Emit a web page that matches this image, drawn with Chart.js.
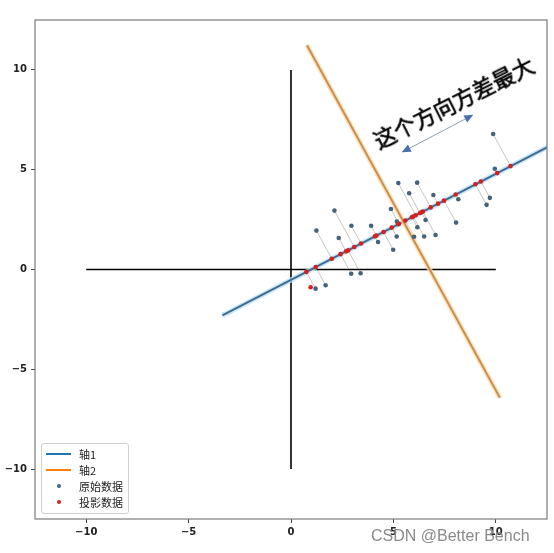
<!DOCTYPE html>
<html>
<head>
<meta charset="utf-8">
<script src="https://cdn.jsdelivr.net/npm/chart.js@4/dist/chart.umd.min.js"></script>
<style>
  body { margin: 0; background: #fff; }
  #wrap { position: relative; width: 554px; height: 553px; }
  #legend {
    position: absolute; left: 41px; top: 443px; width: 86px; height: 69px;
    border: 1px solid #d0d0d0; border-radius: 3px; background: rgba(255,255,255,0.85);
    font: 11px "Noto Sans CJK SC", sans-serif; color: #222;
  }
  .row { position: absolute; left: 0; height: 16px; width: 86px; }
  .row span { position: absolute; left: 37px; top: 0; line-height: 16px; }
  .line { position: absolute; left: 4px; top: 7px; width: 25px; height: 2px; }
  .dot { position: absolute; left: 15px; top: 6px; width: 4px; height: 4px; border-radius: 50%; }
  #note {
    position: absolute; left: 453px; top: 101px; white-space: nowrap;
    transform: translate(-50%, -50%) rotate(-26.6deg);
    font: 22px "Noto Sans CJK SC", sans-serif; color: #000;
    -webkit-text-stroke: 0.6px #000;
  }
  #mark {
    position: absolute; left: 371px; top: 527px;
    font: 16px "Liberation Sans", Arial, sans-serif; color: #8a8a8a;
  }
</style>
</head>
<body>
<div id="wrap">
  <canvas id="pca" width="554" height="553"></canvas>
  <div id="legend">
    <div class="row" style="top:2px"><div class="line" style="background:#1f77b4"></div><span>轴1</span></div>
    <div class="row" style="top:18px"><div class="line" style="background:#ff7f0e"></div><span>轴2</span></div>
    <div class="row" style="top:34px"><div class="dot" style="background:#3f6687"></div><span>原始数据</span></div>
    <div class="row" style="top:50px"><div class="dot" style="background:#d42020"></div><span>投影数据</span></div>
  </div>
  <div id="note">这个方向方差最大</div>
  <div id="mark">CSDN @Better Bench</div>
</div>
<script>
// ticks
const xTicks = [-10, -5, 0, 5, 10];
const yTicks = [-10, -5, 0, 5, 10];

// original points
const origX = [9.87, 9.95, 5.24, 6.16, 5.77, 6.95, 8.17, 9.71, 9.55, 2.12, 4.88, 8.06, 5.17, 1.24, 2.95,
  3.91, 2.33, 4.25, 5.16, 6.17, 6.01, 6.50, 7.06, 4.99, 2.94, 3.40, 1.69, 1.20, 6.57];
const origY = [6.79, 5.05, 4.33, 4.35, 3.82, 3.73, 3.52, 3.59, 3.24, 2.95, 3.03, 2.35, 2.40, 1.95, 2.19,
  2.19, 1.58, 1.38, 1.65, 2.12, 1.64, 1.65, 1.73, 0.99, -0.21, -0.19, -0.79, -0.96, 2.48];

// projected points (last one is the lone red dot)
const projX = [10.72, 10.07, 6.09, 6.82, 6.30, 7.18, 8.04, 9.27, 9.00, 3.09, 5.27, 7.47, 5.24, 1.99, 3.42,
  4.17, 2.69, 4.10, 4.92, 5.90, 5.58, 5.97, 6.44, 4.52, 2.42, 2.79, 1.21, 0.75, 6.37, 0.96];
const projY = [5.18, 4.83, 2.72, 3.11, 2.83, 3.30, 3.76, 4.41, 4.27, 1.13, 2.29, 3.45, 2.27, 0.54, 1.30,
  1.70, 0.91, 1.66, 2.10, 2.62, 2.45, 2.65, 2.90, 1.88, 0.77, 0.96, 0.12, -0.12, 2.87, -0.89];

// principal axes
const axis1X = [-3.35, 14.33];
const axis1Y = [-2.30, 7.09];
const axis2X = [0.78, 10.20];
const axis2Y = [11.23, -6.43];

// black cross
const hLineX = [-10, 10];
const hLineY = [0, 0];
const vLineX = [0, 0];
const vLineY = [-10, 10];

// arrow for the note
const arrowX = [5.41, 8.90];
const arrowY = [5.87, 7.75];

const pts = (xs, ys) => xs.map((x, i) => ({ x: x, y: ys[i] }));

function lineSet(xs, ys, color, width, order) {
  return { data: pts(xs, ys), showLine: true, borderColor: color, borderWidth: width,
    pointRadius: 0, fill: false, order: order };
}

const datasets = [];
// grey connectors
for (let i = 0; i < origX.length; i++) {
  datasets.push(lineSet([origX[i], projX[i]], [origY[i], projY[i]], "rgba(160,160,160,0.6)", 1, 10));
}
datasets.push(lineSet(hLineX, hLineY, "#000", 1.6, 9));
datasets.push(lineSet(vLineX, vLineY, "#000", 1.6, 9));
datasets.push(lineSet(axis1X, axis1Y, "rgba(190,225,240,0.8)", 5, 8));
datasets.push(lineSet(axis1X, axis1Y, "#3c6d94", 2, 7));
datasets.push(lineSet(axis2X, axis2Y, "rgba(252,220,170,0.8)", 5, 6));
datasets.push(lineSet(axis2X, axis2Y, "#c98f52", 2, 5));
datasets.push({ data: pts(origX, origY), pointRadius: 2.3, pointBackgroundColor: "#46637e",
  pointBorderWidth: 0, order: 2 });
datasets.push({ data: pts(projX, projY), pointRadius: 2.3, pointBackgroundColor: "#d42020",
  pointBorderWidth: 0, order: 1 });

const framePlugin = {
  id: "frame",
  afterDatasetsDraw(chart) {
    const { ctx, chartArea: a, scales } = chart;
    ctx.save();
    // arrow
    const x1 = scales.x.getPixelForValue(arrowX[0]), y1 = scales.y.getPixelForValue(arrowY[0]);
    const x2 = scales.x.getPixelForValue(arrowX[1]), y2 = scales.y.getPixelForValue(arrowY[1]);
    const ang = Math.atan2(y2 - y1, x2 - x1);
    const head = 9, half = 4;
    ctx.strokeStyle = "#8a9bb5";
    ctx.lineWidth = 1;
    ctx.beginPath();
    ctx.moveTo(x1 + Math.cos(ang) * head, y1 + Math.sin(ang) * head);
    ctx.lineTo(x2 - Math.cos(ang) * head, y2 - Math.sin(ang) * head);
    ctx.stroke();
    ctx.fillStyle = "#4a6fb0";
    [[x1, y1, ang], [x2, y2, ang + Math.PI]].forEach(([px, py, a0]) => {
      const bx = px + Math.cos(a0) * head, by = py + Math.sin(a0) * head;
      ctx.beginPath();
      ctx.moveTo(px, py);
      ctx.lineTo(bx - Math.sin(a0) * half, by + Math.cos(a0) * half);
      ctx.lineTo(bx + Math.sin(a0) * half, by - Math.cos(a0) * half);
      ctx.closePath();
      ctx.fill();
    });
    // frame
    ctx.strokeStyle = "#7a7a7a";
    ctx.lineWidth = 1.2;
    ctx.strokeRect(a.left, a.top, a.right - a.left, a.bottom - a.top);
    ctx.restore();
  }
};

const tickFmt = v => String(v).replace("-", "\u2212");

new Chart(document.getElementById("pca"), {
  type: "scatter",
  data: { datasets: datasets },
  options: {
    responsive: false,
    animation: false,
    layout: { padding: { top: 20, right: 7, left: 0, bottom: 0 } },
    plugins: { legend: { display: false }, tooltip: { enabled: false } },
    scales: {
      x: {
        min: -12.5, max: 12.5,
        afterBuildTicks: s => { s.ticks = xTicks.map(v => ({ value: v })); },
        afterFit: s => { s.height = 34; },
        grid: { drawOnChartArea: false, drawTicks: true, tickLength: 4, color: "#444" },
        border: { display: false },
        ticks: { callback: tickFmt, color: "#222", padding: 3, maxRotation: 0,
          font: { family: "DejaVu Sans", size: 10, weight: "bold" } }
      },
      y: {
        min: -12.5, max: 12.5,
        afterBuildTicks: s => { s.ticks = yTicks.map(v => ({ value: v })); },
        afterFit: s => { s.width = 35; },
        grid: { drawOnChartArea: false, drawTicks: true, tickLength: 4, color: "#444" },
        border: { display: false },
        ticks: { callback: tickFmt, color: "#222", padding: 4,
          font: { family: "DejaVu Sans", size: 10, weight: "bold" } }
      }
    }
  },
  plugins: [framePlugin]
});
</script>
</body>
</html>
